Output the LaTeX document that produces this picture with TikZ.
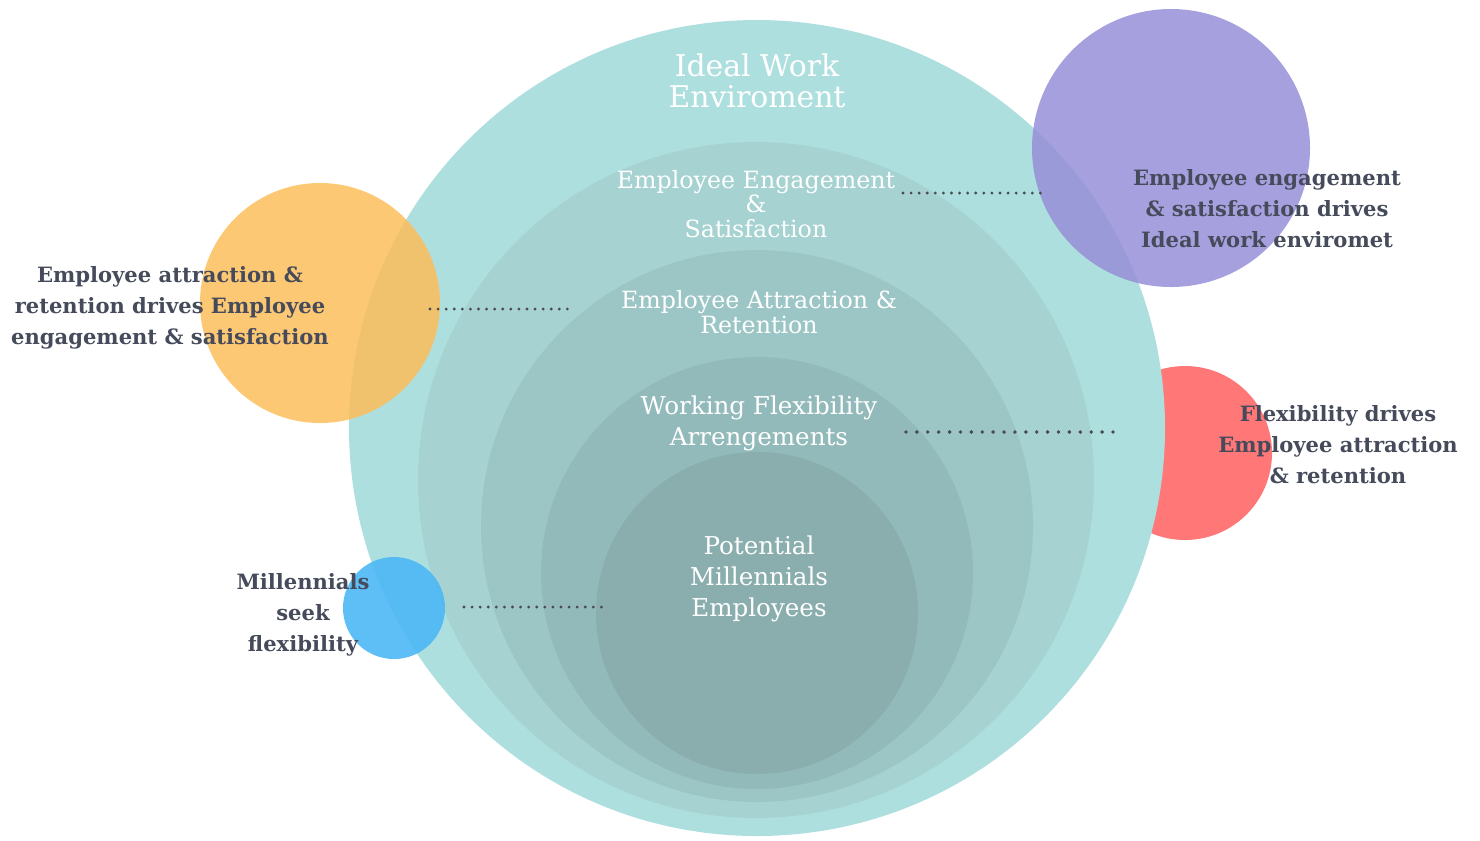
\documentclass[tikz,border=0pt]{standalone}
\usepackage{fontspec}
\setmainfont{DejaVu Serif}
\usetikzlibrary{positioning}

\definecolor{teal0}{HTML}{AEDFDF}
\definecolor{teal1}{HTML}{A6D2D2}
\definecolor{teal2}{HTML}{9CC6C6}
\definecolor{teal3}{HTML}{93BABA}
\definecolor{teal4}{HTML}{8AADAD}
\definecolor{orangec}{HTML}{FCBE5A}
\definecolor{purplec}{HTML}{978FD9}
\definecolor{bluec}{HTML}{4DB8F5}
\definecolor{redc}{HTML}{FF7777}
\definecolor{ink}{HTML}{464B5B}
\definecolor{dotc}{HTML}{4A4A4F}

\begin{document}
\begin{tikzpicture}[
    x=0.02cm, y=-0.02cm,
    ringtext/.style={text=white, align=center, inner sep=0pt, font=\fontsize{14}{17.6}\selectfont},
    sidetext/.style={text=ink, align=center, inner sep=0pt, font=\bfseries\fontsize{12}{17.6}\selectfont},
    link/.style={draw=dotc, line width=1.8pt, line cap=round, dash pattern=on 0pt off 4.6pt},
]
    \useasboundingbox (0,0) rectangle (1480,840);

    % Circles
    \fill[redc] (1185,453) circle (87);
    \fill[teal0] (757,428) circle (408);
    \fill[teal1] (756,480) circle (338);
    \fill[teal2] (757,526) circle (276);
    \fill[teal3] (757,573) circle (216);
    \fill[teal4] (757,613) circle (161);
    \fill[orangec, fill opacity=0.85] (320,303) circle (120);
    \fill[purplec, fill opacity=0.85] (1171,148) circle (139);
    \fill[bluec, fill opacity=0.9] (394,608) circle (51);

    % Nodes
    \node[ringtext, font=\fontsize{17}{17.6}\selectfont] (A) at (757,81) {Ideal Work\\Enviroment};
    \node[ringtext, font=\fontsize{13.5}{14}\selectfont] (B) at (756,204) {Employee Engagement\\\&\\Satisfaction};
    \node[ringtext, font=\fontsize{13.5}{14}\selectfont] (C) at (759,312) {Employee Attraction \&\\Retention};
    \node[ringtext] (D) at (759,423) {Working Flexibility\\Arrengements};
    \node[ringtext] (E) at (759,579) {Potential\\Millennials\\Employees};

    \node[sidetext] (F) at (1267,209) {Employee engagement\\\& satisfaction drives\\Ideal work enviromet};
    \node[sidetext] (G) at (170,308) {Employee attraction \&\\retention drives Employee\\engagement \& satisfaction};
    \node[sidetext] (H) at (1338,445) {Flexibility drives\\Employee attraction\\\& retention};
    \node[sidetext] (I) at (303,615) {Millennials\\seek\\flexibility};

    \coordinate (b1) at (903,193);  \coordinate (b2) at (1043,193);
    \coordinate (c1) at (430,309);  \coordinate (c2) at (572,309);
    \coordinate (d1) at (906,432);  \coordinate (d2) at (1120,432);
    \coordinate (e1) at (464,607);  \coordinate (e2) at (606,607);

    % Connections
    \draw[link] (b1) -- (b2);
    \draw[link] (c1) -- (c2);
    \draw[link, line width=2.2pt, dash pattern=on 0pt off 6.2pt] (d1) -- (d2);
    \draw[link] (e1) -- (e2);

\end{tikzpicture}
\end{document}
